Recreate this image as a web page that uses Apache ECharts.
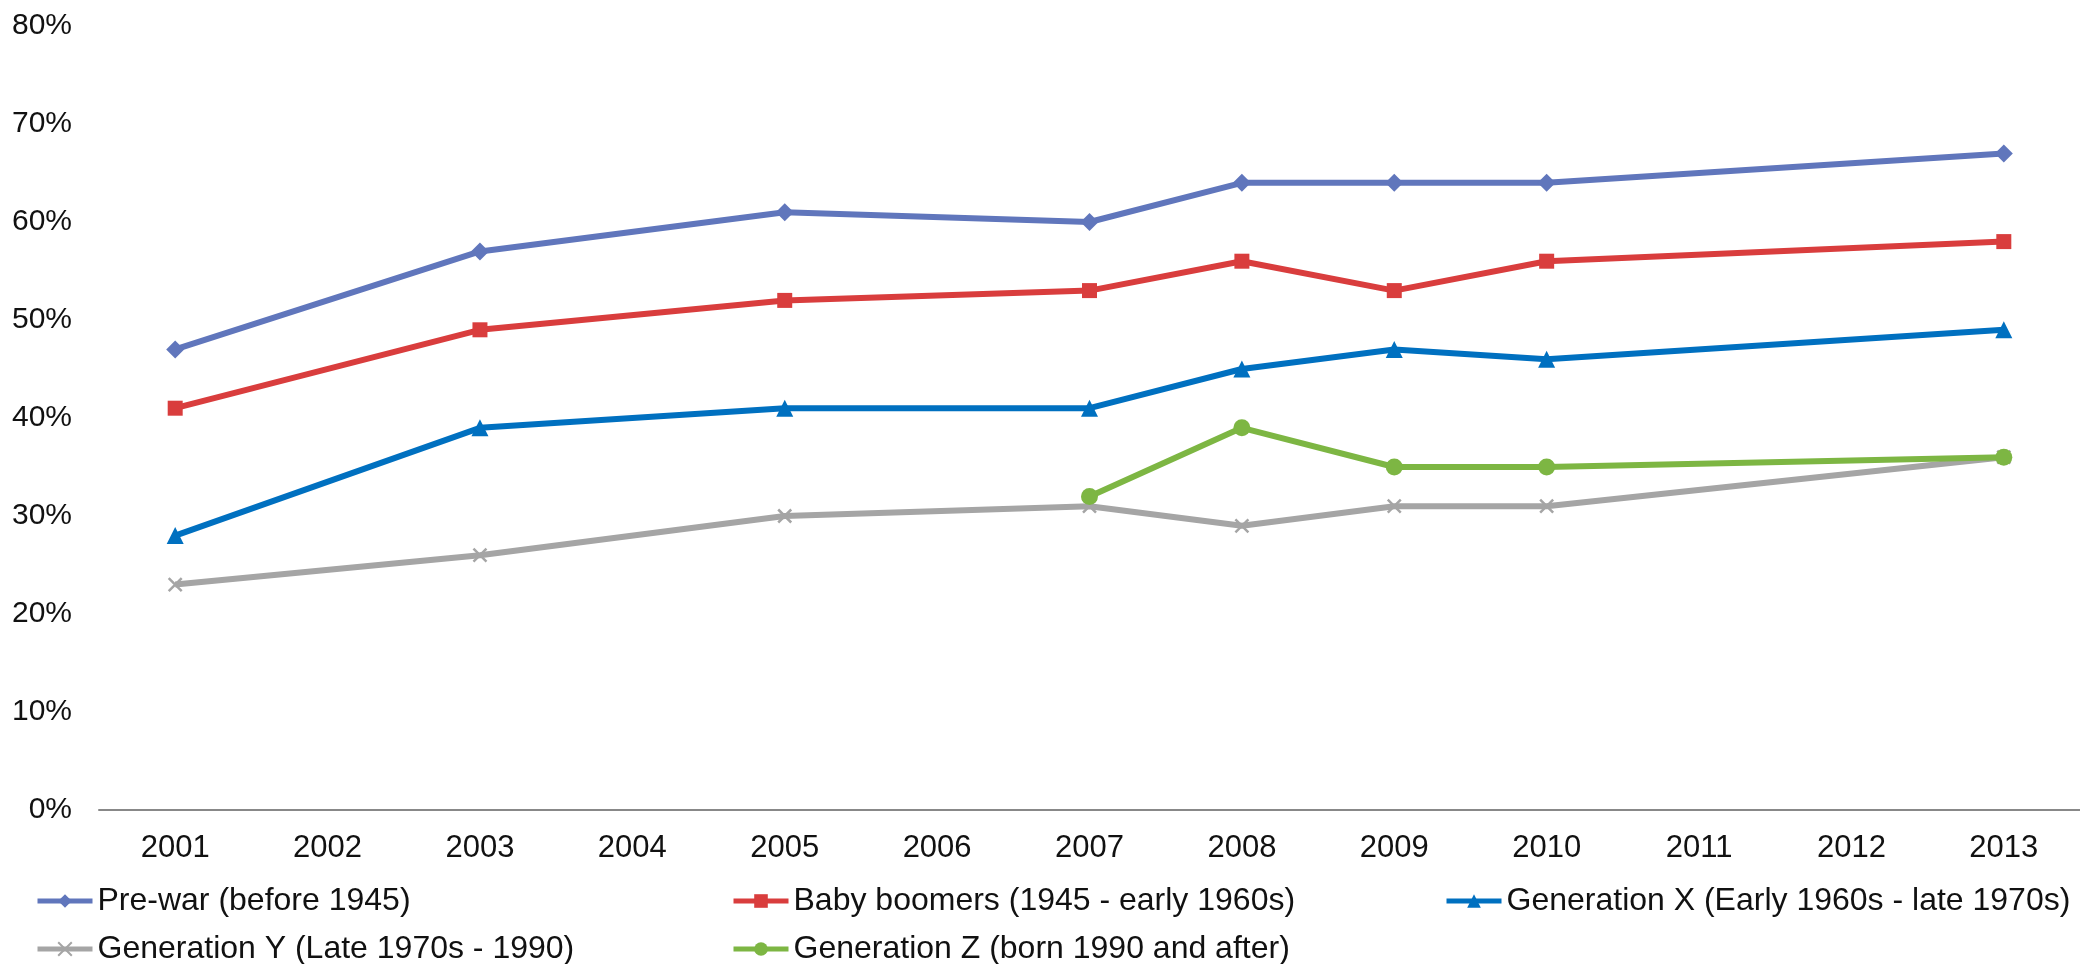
<!DOCTYPE html>
<html><head><meta charset="utf-8">
<script src="https://cdn.jsdelivr.net/npm/echarts@6/dist/echarts.min.js"></script>
<style>html,body{margin:0;padding:0;background:#fff}#c{width:2080px;height:964px}</style>
</head><body><div id="c"></div>
<script>
const years = ['2001','2002','2003','2004','2005','2006','2007','2008','2009','2010','2011','2012','2013'];
const preWar =      [47, null, 57, null, 61, null, 60, 64, 64, 64, null, null, 67];
const babyBoomers = [41, null, 49, null, 52, null, 53, 56, 53, 56, null, null, 58];
const genX =        [28, null, 39, null, 41, null, 41, 45, 47, 46, null, null, 49];
const genY =        [23, null, 26, null, 30, null, 31, 29, 31, 31, null, null, 36];
const genZ =        [null, null, null, null, null, null, 32, 39, 35, 35, null, null, 36];
const names = ['Pre-war (before 1945)','Baby boomers (1945 - early 1960s)','Generation X (Early 1960s - late 1970s)','Generation Y (Late 1970s - 1990)','Generation Z (born 1990 and after)'];
const yTicks = [0,10,20,30,40,50,60,70,80];

const font = 'Liberation Sans, Arial, sans-serif';
const crossPath = 'path://M0,0 L10,10 M10,0 L0,10';
function mk(name, data, color, symbol, size, extra) {
  return Object.assign({
    name, type: 'line', data, connectNulls: true,
    symbol, symbolSize: size, showAllSymbol: true,
    lineStyle: { color, width: 6 },
    itemStyle: { color, borderWidth: 0 },
    emphasis: { disabled: true }
  }, extra || {});
}
const chart = echarts.init(document.getElementById('c'), null, { renderer: 'canvas' });
function lg(name, left, top) {
  return {
    data: [name], left, top, orient: 'horizontal',
    itemWidth: 55, itemHeight: 17, itemGap: 0,
    lineStyle: { width: 5 },
    textStyle: { fontFamily: font, fontSize: 32, color: '#111', lineHeight: 34 },
    padding: 0
  };
}
chart.setOption({
  animation: false,
  grid: { left: 99, right: -25, top: 26, bottom: 154, containLabel: false },
  legend: [
    lg(names[0], 35, 884),
    lg(names[1], 731, 884),
    lg(names[2], 1444, 884),
    lg(names[3], 35, 932),
    lg(names[4], 731, 932)
  ],
  xAxis: {
    type: 'category', data: years, boundaryGap: true,
    axisLine: { lineStyle: { color: '#888', width: 2 } },
    axisTick: { show: false },
    axisLabel: { fontFamily: font, fontSize: 31, color: '#111', margin: 23, interval: 0 }
  },
  yAxis: {
    type: 'value', min: 0, max: 80, interval: 10,
    axisLine: { show: false }, axisTick: { show: false },
    splitLine: { show: false },
    axisLabel: { fontFamily: font, fontSize: 30, color: '#111', margin: 27, formatter: v => yTicks.includes(v) ? v + '%' : '' }
  },
  series: [
    mk(names[0], preWar, '#6076BC', 'diamond', 18),
    mk(names[1], babyBoomers, '#D93D3D', 'rect', 15),
    mk(names[2], genX, '#0070C0', 'triangle', 17),
    mk(names[3], genY, '#A5A5A5', crossPath, 13, { itemStyle: { color: 'none', borderColor: '#A5A5A5', borderWidth: 2.5 } }),
    mk(names[4], genZ, '#7DB643', 'circle', 17)
  ]
});
</script></body></html>
